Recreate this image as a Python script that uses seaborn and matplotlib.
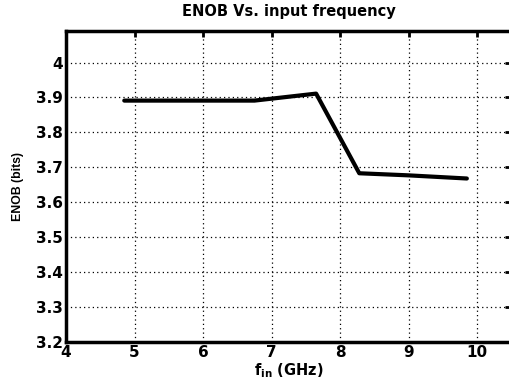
import matplotlib
matplotlib.use("Agg")
import matplotlib.pyplot as plt
import seaborn as sns
import pandas as pd

freq_ghz = [4.85, 6.75, 7.65, 8.28, 9.0, 9.85]
enob_bits = [3.891, 3.891, 3.911, 3.683, 3.677, 3.668]
x_ticks = [4, 5, 6, 7, 8, 9, 10]
y_ticks = [3.2, 3.3, 3.4, 3.5, 3.6, 3.7, 3.8, 3.9, 4.0]
y_tick_labels = ["3.2", "3.3", "3.4", "3.5", "3.6", "3.7", "3.8", "3.9", "4"]

sns.set_style("white")
plt.rcParams['font.family'] = ['DejaVu Sans']
plt.rcParams['font.weight'] = 'bold'
plt.rcParams['text.color'] = 'black'
plt.rcParams['axes.labelcolor'] = 'black'
plt.rcParams['xtick.color'] = 'black'
plt.rcParams['ytick.color'] = 'black'
plt.rcParams['mathtext.fontset'] = 'custom'
plt.rcParams['mathtext.rm'] = 'DejaVu Sans:bold'
plt.rcParams['mathtext.it'] = 'DejaVu Sans:bold'
plt.rcParams['mathtext.bf'] = 'DejaVu Sans:bold'

df = pd.DataFrame({"f": freq_ghz, "enob": enob_bits})

fig = plt.figure(figsize=(5.09, 3.81), dpi=100)
ax = fig.add_axes([0.1297, 0.1024, 0.875, 0.816])
sns.lineplot(data=df, x="f", y="enob", ax=ax, color="black", linewidth=3.0, sort=False)

ax.set_xlim(4, 10.5)
ax.set_ylim(3.2, 4.09)
ax.set_xticks(x_ticks)
ax.set_xticklabels([str(t) for t in x_ticks])
ax.set_yticks(y_ticks)
ax.set_yticklabels(y_tick_labels)
ax.grid(True, color="black", linestyle=(0, (1, 2.5)), linewidth=0.9)
ax.tick_params(direction="in", length=4, width=2, labelsize=11, pad=2, top=True, right=True,
               colors="black")
for lbl in ax.get_xticklabels() + ax.get_yticklabels():
    lbl.set_fontweight("bold")
for s in ax.spines.values():
    s.set_linewidth(2.5)
    s.set_color("black")

ax.set_xlabel(r"f$_{\mathrm{in}}$ (GHz)", fontsize=10.5, fontweight="bold", labelpad=1,
              color="black")
ax.set_ylabel("ENOB (bits)", fontsize=8.8, fontweight="bold", labelpad=9, color="black",
              family=['Liberation Sans', 'DejaVu Sans'])
ax.set_title("ENOB Vs. input frequency", fontsize=10.5, fontweight="bold", pad=11,
             color="black")

fig.savefig("out.png", dpi=100)
